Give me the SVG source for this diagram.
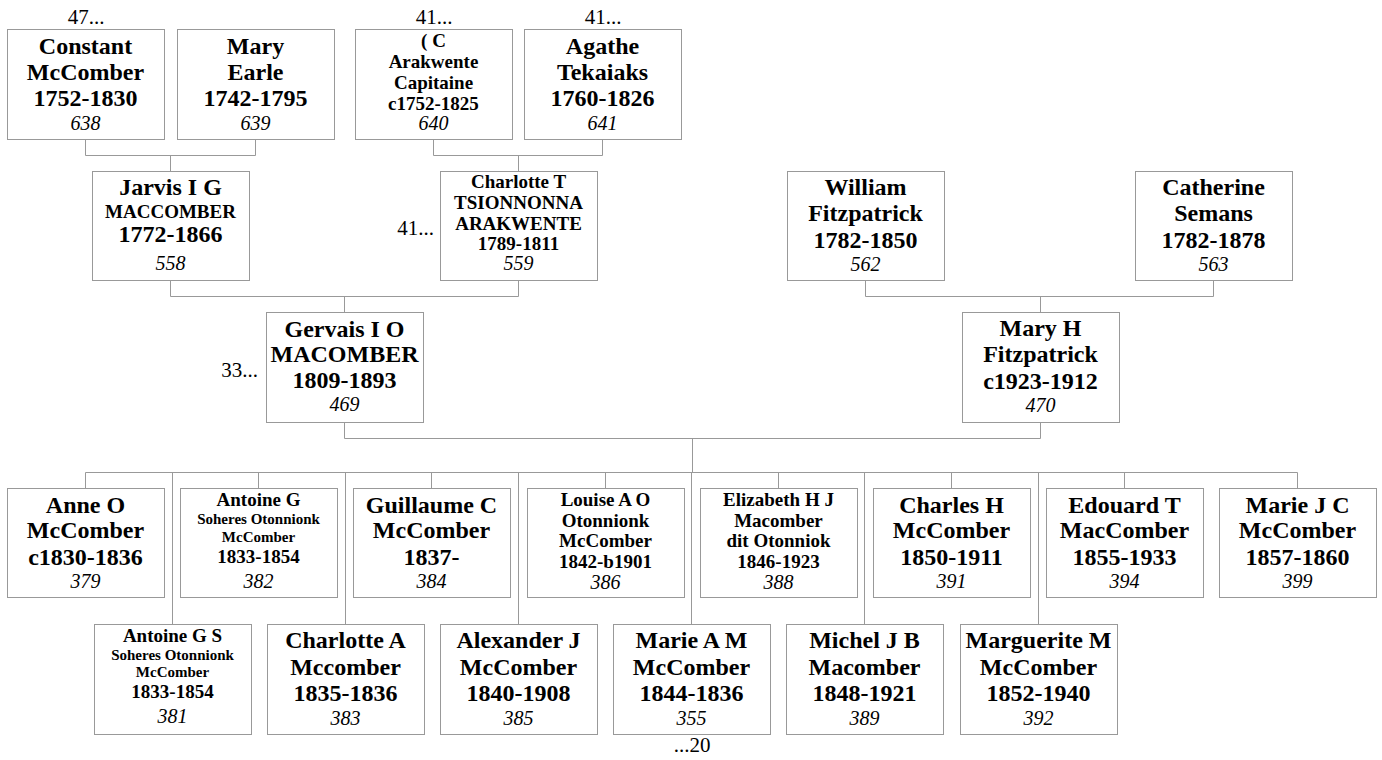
<svg xmlns="http://www.w3.org/2000/svg" width="1382" height="760" viewBox="0 0 1382 760">
<style>
.box{fill:#fff;stroke:#999;stroke-width:1}
.ln{fill:none;stroke:#999;stroke-width:1}
text{font-family:"Liberation Serif","Times New Roman",serif;fill:#000;text-anchor:middle}
.L{font-size:24px;font-weight:bold}
.M{font-size:19px;font-weight:bold}
.S{font-size:15px;font-weight:bold}
.num{font-size:20px;font-style:italic}
.ref{font-size:21px}
</style>
<rect x="0" y="0" width="1382" height="760" fill="#fff"/>
<g id="connectors">
<path class="ln" d="M85.5,139.5V155.5H255.5V139.5M170.5,155.5V171.5"/>
<path class="ln" d="M433.5,139.5V155.5H602.5V139.5M518.5,155.5V171.5"/>
<path class="ln" d="M170.5,280.5V296.5H518.5V280.5M344.5,296.5V312.5"/>
<path class="ln" d="M865.5,280.5V296.5H1213.5V280.5M1040.5,296.5V312.5"/>
<path class="ln" d="M344.5,422.5V438.5H1040.5V422.5M692.5,438.5V472.5"/>
<path class="ln" d="M85.5,472.5H1297.5"/>
<path class="ln" d="M85.5,472.5V488.5M258.5,472.5V488.5M431.5,472.5V488.5M605.5,472.5V488.5M778.5,472.5V488.5M951.5,472.5V488.5M1124.5,472.5V488.5M1297.5,472.5V488.5"/>
<path class="ln" d="M172.5,472.5V624.5M345.5,472.5V624.5M518.5,472.5V624.5M691.5,472.5V624.5M864.5,472.5V624.5M1038.5,472.5V624.5"/>
</g>
<g id="labels">
<text class="ref" x="86" y="24">47...</text>
<text class="ref" x="434" y="24">41...</text>
<text class="ref" x="603" y="24">41...</text>
<text class="ref" x="434" y="235" style="text-anchor:end">41...</text>
<text class="ref" x="258" y="377" style="text-anchor:end">33...</text>
<text class="ref" x="692" y="752">...20</text>
</g>
<g id="n638" transform="translate(7,29)"><rect class="box" x="0.5" y="0.5" width="157" height="110"/>
<text class="L" x="78.5" y="25">Constant</text><text class="L" x="78.5" y="51">McComber</text><text class="L" x="78.5" y="77">1752-1830</text><text class="num" x="78.5" y="101">638</text></g>
<g id="n639" transform="translate(177,29)"><rect class="box" x="0.5" y="0.5" width="157" height="110"/>
<text class="L" x="78.5" y="25">Mary</text><text class="L" x="78.5" y="51">Earle</text><text class="L" x="78.5" y="77">1742-1795</text><text class="num" x="78.5" y="101">639</text></g>
<g id="n640" transform="translate(355,29)"><rect class="box" x="0.5" y="0.5" width="157" height="110"/>
<text class="M" x="78.5" y="18">( C</text><text class="M" x="78.5" y="39">Arakwente</text><text class="M" x="78.5" y="60">Capitaine</text><text class="M" x="78.5" y="81">c1752-1825</text><text class="num" x="78.5" y="101">640</text></g>
<g id="n641" transform="translate(524,29)"><rect class="box" x="0.5" y="0.5" width="157" height="110"/>
<text class="L" x="78.5" y="25">Agathe</text><text class="L" x="78.5" y="51">Tekaiaks</text><text class="L" x="78.5" y="77">1760-1826</text><text class="num" x="78.5" y="101">641</text></g>
<g id="n558" transform="translate(92,171)"><rect class="box" x="0.5" y="0.5" width="157" height="109"/>
<text class="L" x="78.5" y="24">Jarvis I G</text><text class="M" x="78.5" y="47">MACCOMBER</text><text class="L" x="78.5" y="71">1772-1866</text><text class="num" x="78.5" y="99">558</text></g>
<g id="n559" transform="translate(440,171)"><rect class="box" x="0.5" y="0.5" width="157" height="109"/>
<text class="M" x="78.5" y="17">Charlotte T</text><text class="M" x="78.5" y="38">TSIONNONNA</text><text class="M" x="78.5" y="59">ARAKWENTE</text><text class="M" x="78.5" y="79">1789-1811</text><text class="num" x="78.5" y="99">559</text></g>
<g id="n562" transform="translate(787,171)"><rect class="box" x="0.5" y="0.5" width="157" height="109"/>
<text class="L" x="78.5" y="24">William</text><text class="L" x="78.5" y="50">Fitzpatrick</text><text class="L" x="78.5" y="77">1782-1850</text><text class="num" x="78.5" y="100">562</text></g>
<g id="n563" transform="translate(1135,171)"><rect class="box" x="0.5" y="0.5" width="157" height="109"/>
<text class="L" x="78.5" y="24">Catherine</text><text class="L" x="78.5" y="50">Semans</text><text class="L" x="78.5" y="77">1782-1878</text><text class="num" x="78.5" y="100">563</text></g>
<g id="n469" transform="translate(266,312)"><rect class="box" x="0.5" y="0.5" width="157" height="110"/>
<text class="L" x="78.5" y="25">Gervais I O</text><text class="L" x="78.5" y="50">MACOMBER</text><text class="L" x="78.5" y="76">1809-1893</text><text class="num" x="78.5" y="99">469</text></g>
<g id="n470" transform="translate(962,312)"><rect class="box" x="0.5" y="0.5" width="157" height="110"/>
<text class="L" x="78.5" y="24">Mary H</text><text class="L" x="78.5" y="50">Fitzpatrick</text><text class="L" x="78.5" y="77">c1923-1912</text><text class="num" x="78.5" y="100">470</text></g>
<g id="n379" transform="translate(7,488)"><rect class="box" x="0.5" y="0.5" width="157" height="109"/>
<text class="L" x="78.5" y="25">Anne O</text><text class="L" x="78.5" y="50">McComber</text><text class="L" x="78.5" y="77">c1830-1836</text><text class="num" x="78.5" y="100">379</text></g>
<g id="n382" transform="translate(180,488)"><rect class="box" x="0.5" y="0.5" width="157" height="109"/>
<text class="M" x="78.5" y="18">Antoine G</text><text class="S" x="78.5" y="36">Soheres Otonnionk</text><text class="S" x="78.5" y="54">McComber</text><text class="M" x="78.5" y="75">1833-1854</text><text class="num" x="78.5" y="100">382</text></g>
<g id="n384" transform="translate(353,488)"><rect class="box" x="0.5" y="0.5" width="157" height="109"/>
<text class="L" x="78.5" y="25">Guillaume C</text><text class="L" x="78.5" y="50">McComber</text><text class="L" x="78.5" y="77">1837-</text><text class="num" x="78.5" y="100">384</text></g>
<g id="n386" transform="translate(527,488)"><rect class="box" x="0.5" y="0.5" width="157" height="109"/>
<text class="M" x="78.5" y="18">Louise A O</text><text class="M" x="78.5" y="38.5">Otonnionk</text><text class="M" x="78.5" y="59">McComber</text><text class="M" x="78.5" y="80">1842-b1901</text><text class="num" x="78.5" y="100.5">386</text></g>
<g id="n388" transform="translate(700,488)"><rect class="box" x="0.5" y="0.5" width="157" height="109"/>
<text class="M" x="78.5" y="17.5">Elizabeth H J</text><text class="M" x="78.5" y="38.5">Macomber</text><text class="M" x="78.5" y="59">dit Otonniok</text><text class="M" x="78.5" y="80">1846-1923</text><text class="num" x="78.5" y="100.5">388</text></g>
<g id="n391" transform="translate(873,488)"><rect class="box" x="0.5" y="0.5" width="157" height="109"/>
<text class="L" x="78.5" y="25">Charles H</text><text class="L" x="78.5" y="50">McComber</text><text class="L" x="78.5" y="77">1850-1911</text><text class="num" x="78.5" y="100">391</text></g>
<g id="n394" transform="translate(1046,488)"><rect class="box" x="0.5" y="0.5" width="157" height="109"/>
<text class="L" x="78.5" y="25">Edouard T</text><text class="L" x="78.5" y="50">MacComber</text><text class="L" x="78.5" y="77">1855-1933</text><text class="num" x="78.5" y="100">394</text></g>
<g id="n399" transform="translate(1219,488)"><rect class="box" x="0.5" y="0.5" width="157" height="109"/>
<text class="L" x="78.5" y="25">Marie J C</text><text class="L" x="78.5" y="50">McComber</text><text class="L" x="78.5" y="77">1857-1860</text><text class="num" x="78.5" y="100">399</text></g>
<g id="n381" transform="translate(94,624)"><rect class="box" x="0.5" y="0.5" width="157" height="110"/>
<text class="M" x="78.5" y="18">Antoine G S</text><text class="S" x="78.5" y="36">Soheres Otonnionk</text><text class="S" x="78.5" y="53">McComber</text><text class="M" x="78.5" y="74">1833-1854</text><text class="num" x="78.5" y="99">381</text></g>
<g id="n383" transform="translate(267,624)"><rect class="box" x="0.5" y="0.5" width="157" height="110"/>
<text class="L" x="78.5" y="24">Charlotte A</text><text class="L" x="78.5" y="51">Mccomber</text><text class="L" x="78.5" y="77">1835-1836</text><text class="num" x="78.5" y="101">383</text></g>
<g id="n385" transform="translate(440,624)"><rect class="box" x="0.5" y="0.5" width="157" height="110"/>
<text class="L" x="78.5" y="24">Alexander J</text><text class="L" x="78.5" y="51">McComber</text><text class="L" x="78.5" y="77">1840-1908</text><text class="num" x="78.5" y="101">385</text></g>
<g id="n355" transform="translate(613,624)"><rect class="box" x="0.5" y="0.5" width="157" height="110"/>
<text class="L" x="78.5" y="24">Marie A M</text><text class="L" x="78.5" y="51">McComber</text><text class="L" x="78.5" y="77">1844-1836</text><text class="num" x="78.5" y="101">355</text></g>
<g id="n389" transform="translate(786,624)"><rect class="box" x="0.5" y="0.5" width="157" height="110"/>
<text class="L" x="78.5" y="24">Michel J B</text><text class="L" x="78.5" y="51">Macomber</text><text class="L" x="78.5" y="77">1848-1921</text><text class="num" x="78.5" y="101">389</text></g>
<g id="n392" transform="translate(960,624)"><rect class="box" x="0.5" y="0.5" width="157" height="110"/>
<text class="L" x="78.5" y="24">Marguerite M</text><text class="L" x="78.5" y="51">McComber</text><text class="L" x="78.5" y="77">1852-1940</text><text class="num" x="78.5" y="101">392</text></g>
</svg>
